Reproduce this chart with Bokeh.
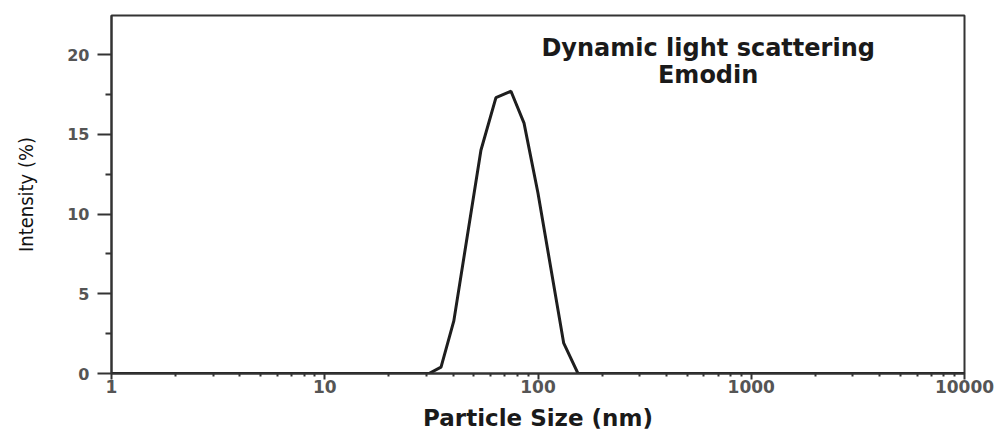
from bokeh.plotting import figure
from bokeh.models import FixedTicker, PrintfTickFormatter, Label, Range1d
from bokeh.embed import file_html
from bokeh.resources import INLINE

# Data
size_nm = [1, 2, 5, 10, 20, 30.8, 35.1, 40.3, 54.0, 63.5, 74.7, 86.0, 100.0, 132.0, 154.0, 500, 1000, 2000, 10000]
intensity = [0, 0, 0, 0, 0, 0.0, 0.4, 3.3, 14.0, 17.3, 17.7, 15.7, 11.3, 1.9, 0.0, 0, 0, 0, 0]

x_major = [1, 10, 100, 1000, 10000]
x_minor = [m * d for d in [1, 10, 100, 1000] for m in range(2, 10)]
y_major = [0, 5, 10, 15, 20]
y_minor = [2.5, 7.5, 12.5, 17.5]

title_lines = ["Dynamic light scattering", "Emodin"]
x_title = "Particle Size (nm)"
y_title = "Intensity (%)"

p = figure(width=1003, height=434, x_axis_type="log",
           x_range=Range1d(1, 10000), y_range=Range1d(0, 22.45),
           output_backend="svg", toolbar_location=None,
           min_border_left=111, min_border_right=39,
           min_border_top=15, min_border_bottom=61)

p.background_fill_color = "white"
p.border_fill_color = "white"
p.grid.visible = False
p.outline_line_color = "#333333"
p.outline_line_width = 2

p.line(size_nm, intensity, line_color="#1e1e1e", line_width=3)

# x axis
xa = p.xaxis[0]
xa.ticker = FixedTicker(ticks=x_major, minor_ticks=x_minor)
xa.formatter = PrintfTickFormatter(format="%d")
xa.axis_line_color = "#333333"
xa.axis_line_width = 2
xa.major_tick_line_color = "#333333"
xa.major_tick_line_width = 2
xa.major_tick_out = 6
xa.major_tick_in = 0
xa.minor_tick_line_color = "#333333"
xa.minor_tick_line_width = 2
xa.minor_tick_out = 3
xa.minor_tick_in = 0
xa.major_label_text_font = "DejaVu Sans"
xa.major_label_text_font_style = "bold"
xa.major_label_text_font_size = "17px"
xa.major_label_text_color = "#555555"
xa.major_label_standoff = 0
xa.axis_label = x_title
xa.axis_label_text_font = "DejaVu Sans"
xa.axis_label_text_font_style = "bold"
xa.axis_label_text_font_size = "23px"
xa.axis_label_text_color = "#1a1a1a"
xa.axis_label_standoff = 9

# y axis
ya = p.yaxis[0]
ya.ticker = FixedTicker(ticks=y_major, minor_ticks=y_minor)
ya.axis_line_color = "#333333"
ya.axis_line_width = 2
ya.major_tick_line_color = "#333333"
ya.major_tick_line_width = 2
ya.major_tick_out = 14
ya.major_tick_in = 0
ya.minor_tick_line_color = "#333333"
ya.minor_tick_line_width = 2
ya.minor_tick_out = 6
ya.minor_tick_in = 0
ya.major_label_text_font = "DejaVu Sans"
ya.major_label_text_font_style = "bold"
ya.major_label_text_font_size = "16px"
ya.major_label_text_color = "#555555"
ya.major_label_standoff = 8
ya.axis_label = y_title
ya.axis_label_text_font = "DejaVu Sans Condensed"
ya.axis_label_text_font_style = "normal"
ya.axis_label_text_font_size = "20px"
ya.axis_label_text_color = "#111111"
ya.axis_label_standoff = 26

# annotation text
p.add_layout(Label(x=628, y=20.4, text=title_lines[0], text_align="center",
                   text_baseline="middle", text_font="DejaVu Sans",
                   text_font_style="bold", text_font_size="24px", text_color="#1a1a1a"))
p.add_layout(Label(x=628, y=18.7, text=title_lines[1], text_align="center",
                   text_baseline="middle", text_font="DejaVu Sans",
                   text_font_style="bold", text_font_size="24px", text_color="#1a1a1a"))

open("out.html", "w").write(file_html(p, INLINE))
